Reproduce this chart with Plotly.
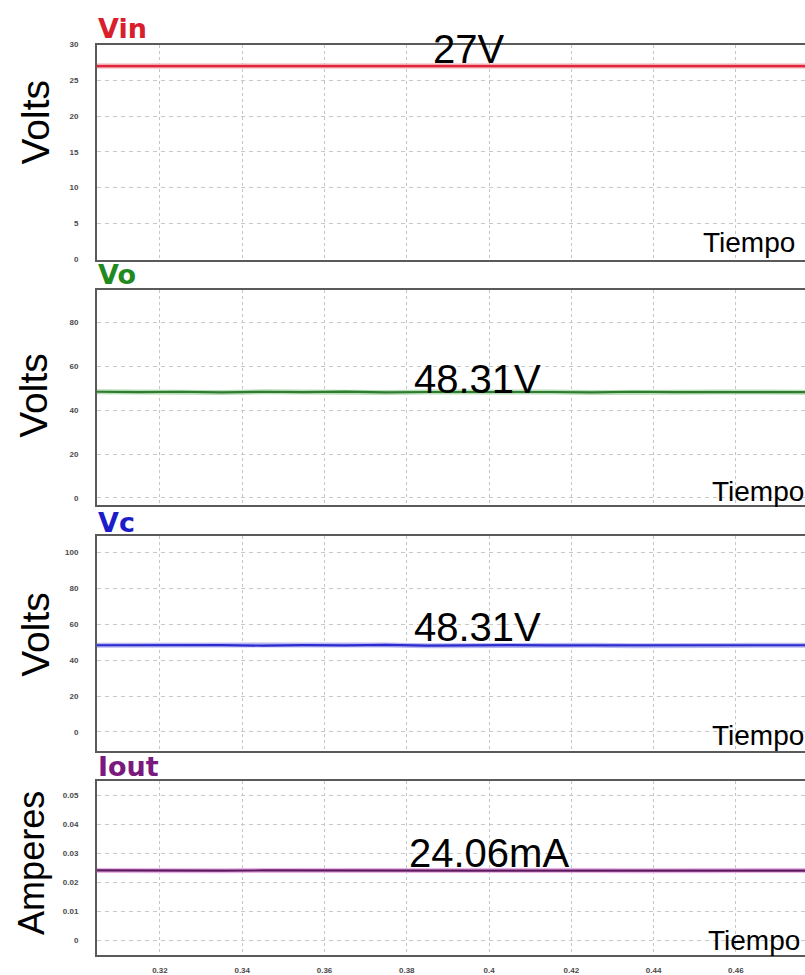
import plotly.graph_objects as go

# ---------------- data ----------------
t = [0.3047, 0.315, 0.325, 0.335, 0.345, 0.355, 0.365, 0.375, 0.385,
     0.395, 0.405, 0.415, 0.425, 0.435, 0.445, 0.455, 0.465, 0.4768]
vin = [27.0, 27.0, 27.0, 27.0, 27.0, 27.0, 27.0, 27.0, 27.0,
       27.0, 27.0, 27.0, 27.0, 27.0, 27.0, 27.0, 27.0, 27.0]
vo = [48.4, 48.2, 48.4, 48.1, 48.4, 48.2, 48.5, 48.1, 48.3,
      48.4, 48.2, 48.3, 48.1, 48.4, 48.2, 48.3, 48.4, 48.2]
vc = [48.3, 48.4, 48.2, 48.4, 48.1, 48.4, 48.2, 48.5, 48.1,
      48.3, 48.4, 48.2, 48.3, 48.1, 48.4, 48.2, 48.3, 48.3]
iout = [0.02412, 0.02400, 0.02408, 0.02402, 0.02410, 0.02404, 0.02409, 0.02401, 0.02407,
        0.02405, 0.02408, 0.02403, 0.02406, 0.02404, 0.02408, 0.02405, 0.02406, 0.02406]

titles = ["Vin", "Vo", "Vc", "Iout"]
title_colors = ["#d8202c", "#1f8a1f", "#1c1cc8", "#7a1a7e"]
line_colors = ["#e0283c", "#2e7d2e", "#2a2ad0", "#5c1a5c"]
halo_colors = ["#f4a8b0", "#b8dcb8", "#b8b8f0", "#eab0ea"]
ytitles = ["Volts", "Volts", "Volts", "Amperes"]
value_labels = ["27V", "48.31V", "48.31V", "24.06mA"]
y_ranges = [[-0.1, 30], [-3.2, 95], [-10.5, 109.4], [-0.0051, 0.0551]]
y_dticks = [5, 20, 20, 0.01]
y_tick0 = [0, 0, 0, 0]
x_range = [0.3047, 0.4768]
x_tickvals = [0.32, 0.34, 0.36, 0.38, 0.40, 0.42, 0.44, 0.46]
x_ticktext = ["0.32", "0.34", "0.36", "0.38", "0.4", "0.42", "0.44", "0.46"]
series = [vin, vo, vc, iout]

# ---------------- layout geometry (pixels) ----------------
W, H = 805, 975
panel_px = [(41, 258), (288, 505), (536, 753), (783, 959)]
left_px = 97
title_y = [25, 273, 523, 769]
ytitle_pos = [(36, 119.5), (34, 395), (36, 636), (32, 866)]
ytitle_size = [39, 39, 39, 36]
label_pos = [(468.5, 45.5), (477, 378), (477, 628.5), (488.5, 856.5)]
tiempo_pos = [(797, 240), (806, 491.5), (806, 737.5), (802, 944)]


def px(x):
    return x / W


def py(y):
    return 1 - y / H


fig = go.Figure()
layout = dict(
    width=W, height=H,
    margin=dict(l=0, r=0, t=0, b=0),
    paper_bgcolor="white", plot_bgcolor="white",
    showlegend=False,
    font=dict(family="Liberation Sans, Arial, sans-serif", color="black"),
)
annotations = []

for i in range(4):
    n = "" if i == 0 else str(i + 1)
    xa, ya = "x" + n, "y" + n
    # halo + main line
    fig.add_trace(go.Scatter(x=t, y=series[i], mode="lines", xaxis=xa, yaxis=ya,
                             line=dict(color=halo_colors[i], width=5), hoverinfo="skip"))
    fig.add_trace(go.Scatter(x=t, y=series[i], mode="lines", xaxis=xa, yaxis=ya,
                             line=dict(color=line_colors[i], width=2.2)))
    top, bot = panel_px[i]
    layout["xaxis" + n] = dict(
        domain=[px(left_px), 1], range=x_range, anchor=ya,
        tickvals=x_tickvals, ticktext=x_ticktext,
        showticklabels=(i == 3), ticks="",
        tickfont=dict(size=8, color="#4a4a4a", weight="bold"),
        ticklabelstandoff=6,
        showgrid=True, gridcolor="#c4c4c4", griddash="3px,3px", gridwidth=1,
        showline=True, linecolor="#5a5a5a", linewidth=2, mirror=True,
        zeroline=False,
    )
    layout["yaxis" + n] = dict(
        domain=[py(bot), py(top)], range=y_ranges[i], anchor=xa,
        dtick=y_dticks[i], tick0=y_tick0[i], ticks="",
        tickfont=dict(size=8, color="#4a4a4a", weight="bold"),
        ticklabelstandoff=15,
        showgrid=True, gridcolor="#c8c8c8", griddash="4px,4px", gridwidth=1,
        showline=True, linecolor="#5a5a5a", linewidth=2, mirror=False,
        zeroline=False,
    )
    # panel title
    annotations.append(dict(
        text="<b>%s</b>" % titles[i], xref="paper", yref="paper",
        x=px(left_px - 1), y=py(title_y[i]), xanchor="left", yanchor="middle",
        showarrow=False,
        font=dict(family="DejaVu Sans, sans-serif", size=27, color=title_colors[i]),
    ))
    # y-axis title
    annotations.append(dict(
        text=ytitles[i], xref="paper", yref="paper",
        x=px(ytitle_pos[i][0]), y=py(ytitle_pos[i][1]), xanchor="center", yanchor="middle",
        textangle=-90, showarrow=False,
        font=dict(family="Liberation Sans, Arial, sans-serif",
                  size=ytitle_size[i], color="black"),
    ))
    # value label
    annotations.append(dict(
        text=value_labels[i], xref="paper", yref="paper",
        x=px(label_pos[i][0]), y=py(label_pos[i][1]), xanchor="center", yanchor="middle",
        showarrow=False,
        font=dict(family="Liberation Sans, Arial, sans-serif", size=40, color="black"),
    ))
    # Tiempo
    annotations.append(dict(
        text="Tiempo", xref="paper", yref="paper",
        x=px(tiempo_pos[i][0]), y=py(tiempo_pos[i][1]), xanchor="right", yanchor="middle",
        showarrow=False,
        font=dict(family="Liberation Sans, Arial, sans-serif", size=28, color="black"),
    ))

layout["annotations"] = annotations
fig.update_layout(**layout)
fig.write_html("out.html")
